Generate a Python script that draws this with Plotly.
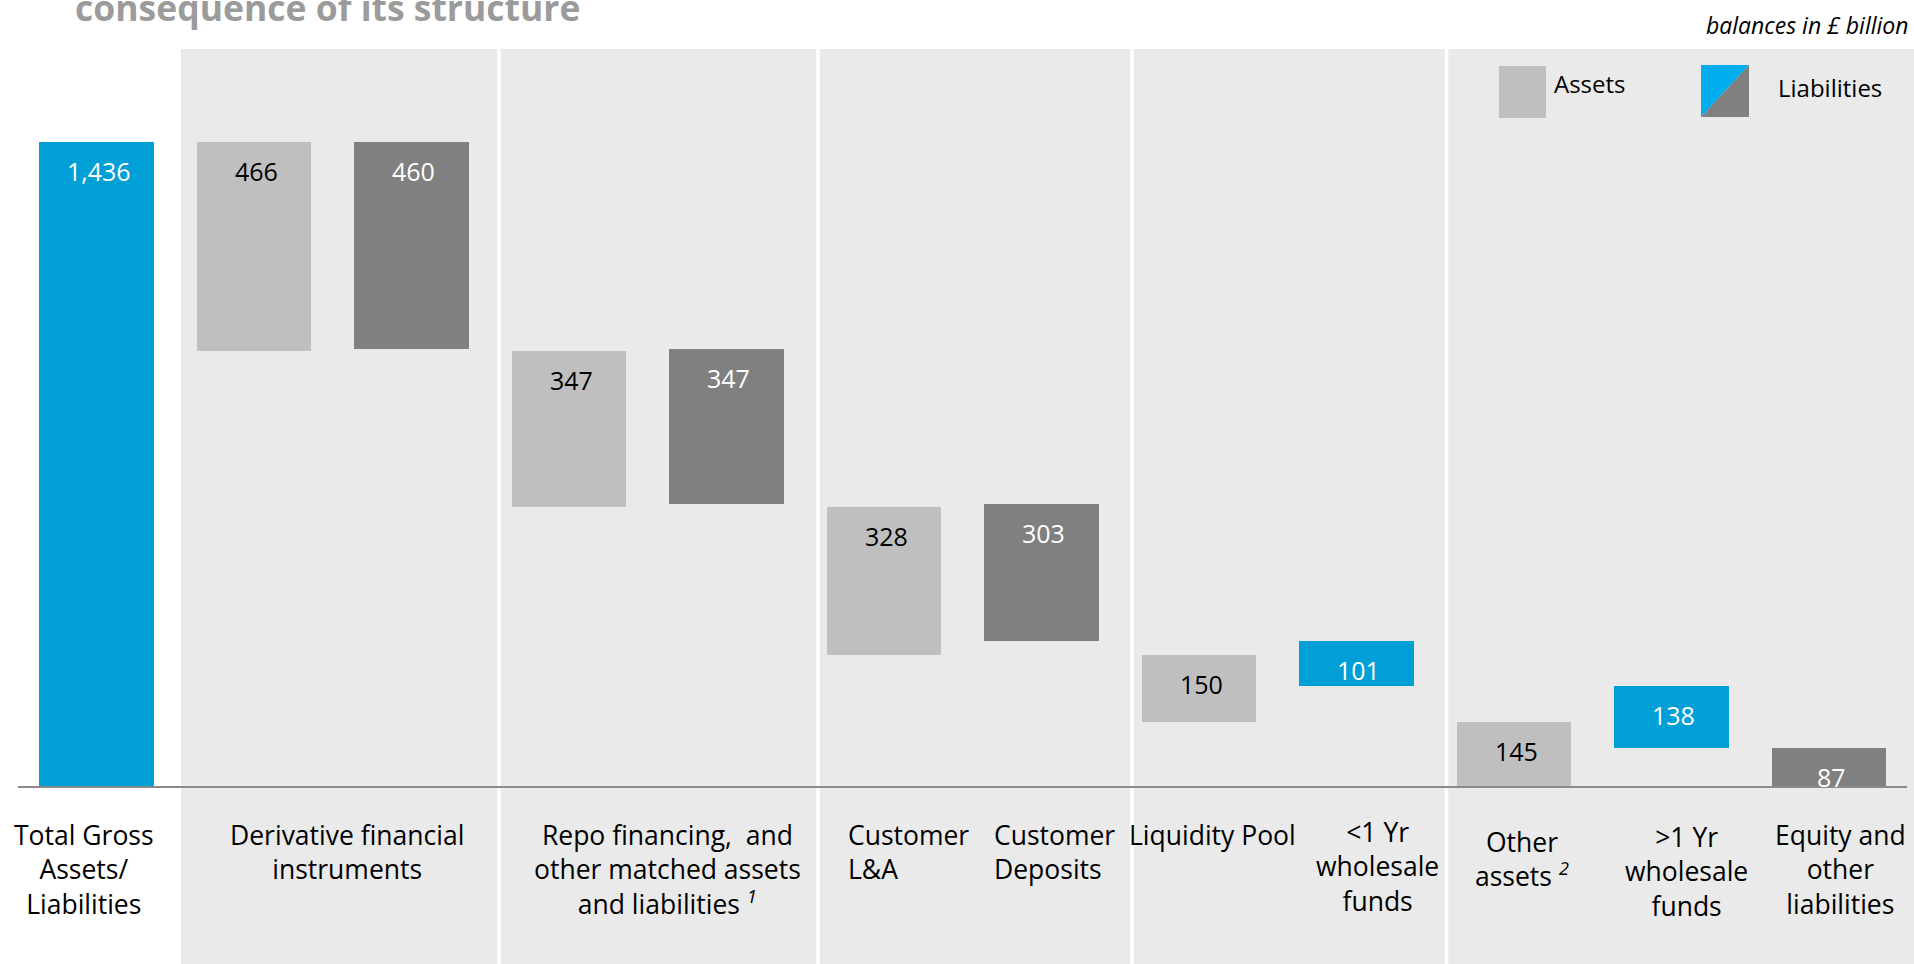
import numpy as np
import plotly.graph_objects as go

# ---------------- data ----------------
bar_names = ["Total Gross Assets/Liabilities",
             "Derivative assets", "Derivative liabilities",
             "Repo assets", "Repo liabilities",
             "Customer L&A", "Customer Deposits",
             "Liquidity Pool", "<1 Yr wholesale funds",
             "Other assets", ">1 Yr wholesale funds",
             "Equity and other liabilities"]
bar_kind = ["total", "asset", "liab", "asset", "liab", "asset", "liab",
            "asset", "liab_blue", "asset", "liab_blue", "liab"]
bar_values = [1436, 466, 460, 347, 347, 328, 303, 150, 101, 145, 138, 87]

category_labels = [
    "Total Gross<br>Assets/<br>Liabilities",
    "Derivative financial<br>instruments",
    "Repo financing,&nbsp; and<br>other matched assets<br>and liabilities <i><sup>1</sup></i>",
    "Customer<br>L&amp;A",
    "Customer<br>Deposits",
    "Liquidity Pool",
    "&lt;1 Yr<br>wholesale<br>funds",
    "Other<br>assets <i><sup>2</sup></i>",
    "&gt;1 Yr<br>wholesale<br>funds",
    "Equity and<br>other<br>liabilities",
]
title_text = "consequence of its structure"
unit_text = "balances in £ billion"
legend_labels = ["Assets", "Liabilities"]

# ---------------- styles ----------------
W, H = 1914, 964
BLUE = "#009FD6"
BLUE_LEG = "#00AEEF"
ASSET = "#BFBFBF"
LIAB = "#808080"
PANEL = "#EAEAEA"
FONT = "Open Sans"

color_map = {"total": BLUE, "asset": ASSET, "liab": LIAB, "liab_blue": BLUE}
text_color_map = {"total": "white", "asset": "black", "liab": "white", "liab_blue": "white"}

# waterfall bases: assets and liabilities each cascade down from the total
total = bar_values[0]
bases, tops = [], []
a_level, l_level = total, total
for k, v in zip(bar_kind, bar_values):
    if k == "total":
        bases.append(0); tops.append(v)
    elif k == "asset":
        tops.append(a_level); a_level -= v; bases.append(a_level)
    else:
        tops.append(l_level); l_level -= v; bases.append(l_level)

x_pos = np.arange(len(bar_values))

# axis geometry (pixels)
X0_PX, DX_PX = 96.5, 157.5
BASE_PX, PX_PER_UNIT = 787.0, 645.0 / 1436.0
x_range = [(0 - X0_PX) / DX_PX, (W - X0_PX) / DX_PX]
y_range = [-(H - BASE_PX) / PX_PER_UNIT, BASE_PX / PX_PER_UNIT]


def pxp_x(px):
    return px / W


def pxp_y(py):
    return 1 - py / H


fig = go.Figure()
fig.add_trace(go.Bar(
    x=x_pos, y=bar_values, base=bases, width=0.73,
    marker=dict(color=[color_map[k] for k in bar_kind], line=dict(width=0)),
    hovertext=bar_names, hoverinfo="text+y", showlegend=False,
))

shapes = []
# grey panel
shapes.append(dict(type="rect", xref="paper", yref="paper",
                   x0=pxp_x(181), x1=1.0, y0=0.0, y1=pxp_y(49),
                   fillcolor=PANEL, line=dict(width=0), layer="below"))
# white dividers
for dpx in [499, 818, 1132, 1446.5]:
    shapes.append(dict(type="line", xref="paper", yref="paper",
                       x0=pxp_x(dpx), x1=pxp_x(dpx), y0=0.0, y1=pxp_y(49),
                       line=dict(color="white", width=3.5), layer="below"))
# baseline
shapes.append(dict(type="line", xref="paper", yref="y",
                   x0=pxp_x(18), x1=pxp_x(1907), y0=0, y1=0,
                   line=dict(color="#8A8A8A", width=2.2), layer="above"))
# legend swatches
shapes.append(dict(type="rect", xref="paper", yref="paper",
                   x0=pxp_x(1499), x1=pxp_x(1546), y0=pxp_y(118), y1=pxp_y(66),
                   fillcolor=ASSET, line=dict(width=0)))
lx0, lx1, ly0, ly1 = pxp_x(1701), pxp_x(1749), pxp_y(117), pxp_y(65)
shapes.append(dict(type="path", xref="paper", yref="paper",
                   path=f"M {lx0} {ly0} L {lx0} {ly1} L {lx1} {ly1} Z",
                   fillcolor=BLUE_LEG, line=dict(width=0)))
shapes.append(dict(type="path", xref="paper", yref="paper",
                   path=f"M {lx0} {ly0} L {lx1} {ly1} L {lx1} {ly0} Z",
                   fillcolor=LIAB, line=dict(width=0)))

annotations = []
# value labels inside bars near the top
for xi, top, v, k in zip(x_pos, tops, bar_values, bar_kind):
    annotations.append(dict(x=xi + 0.015, y=top, xref="x", yref="y",
                            text=f"{v:,}", showarrow=False,
                            yanchor="middle", xanchor="center", yshift=-29,
                            font=dict(family=FONT, size=25, color=text_color_map[k])))

# category labels: (center/left px, anchor, align, first-baseline px)
label_layout = [
    (84, "center", "center", 845),
    (347, "center", "center", 845),
    (667, "center", "center", 845),
    (846, "left", "left", 845),
    (992, "left", "left", 845),
    (1212, "center", "center", 845),
    (1377, "center", "center", 842),
    (1522, "center", "center", 852),
    (1686, "center", "center", 847),
    (1840.5, "center", "center", 845),
]
LBL = 26.5
for txt, (px, xa, al, bl) in zip(category_labels, label_layout):
    top_px = bl - LBL * 1.0 - 4
    annotations.append(dict(x=pxp_x(px), y=pxp_y(top_px), xref="paper", yref="paper",
                            text=txt, showarrow=False, xanchor=xa, yanchor="top",
                            align=al,
                            font=dict(family=FONT, size=LBL, color="black")))

# title fragment (cut off at top)
annotations.append(dict(x=pxp_x(73), y=pxp_y(23 + 0.3 * 35), xref="paper", yref="paper",
                        text=f"<b>{title_text}</b>", showarrow=False,
                        xanchor="left", yanchor="bottom",
                        font=dict(family=FONT, size=35.5, color="#9B9B9B")))
# unit note
annotations.append(dict(x=pxp_x(1911), y=pxp_y(25), xref="paper", yref="paper",
                        text=f"<i>{unit_text}</i>", showarrow=False,
                        xanchor="right", yanchor="middle",
                        font=dict(family=FONT, size=23, color="black")))
# legend labels
annotations.append(dict(x=pxp_x(1552), y=pxp_y(83), xref="paper", yref="paper",
                        text=legend_labels[0], showarrow=False,
                        xanchor="left", yanchor="middle",
                        font=dict(family=FONT, size=24, color="black")))
annotations.append(dict(x=pxp_x(1776), y=pxp_y(87), xref="paper", yref="paper",
                        text=legend_labels[1], showarrow=False,
                        xanchor="left", yanchor="middle",
                        font=dict(family=FONT, size=24, color="black")))

fig.update_layout(
    width=W, height=H,
    margin=dict(l=0, r=0, t=0, b=0),
    paper_bgcolor="white", plot_bgcolor="rgba(0,0,0,0)",
    xaxis=dict(range=x_range, visible=False, fixedrange=True),
    yaxis=dict(range=y_range, visible=False, fixedrange=True),
    shapes=shapes, annotations=annotations,
    bargap=0, showlegend=False,
    font=dict(family=FONT),
)

fig.write_html("out.html",
               config={"displayModeBar": False},
               post_script="document.body.style.margin='0px';document.body.style.overflow='hidden';")
